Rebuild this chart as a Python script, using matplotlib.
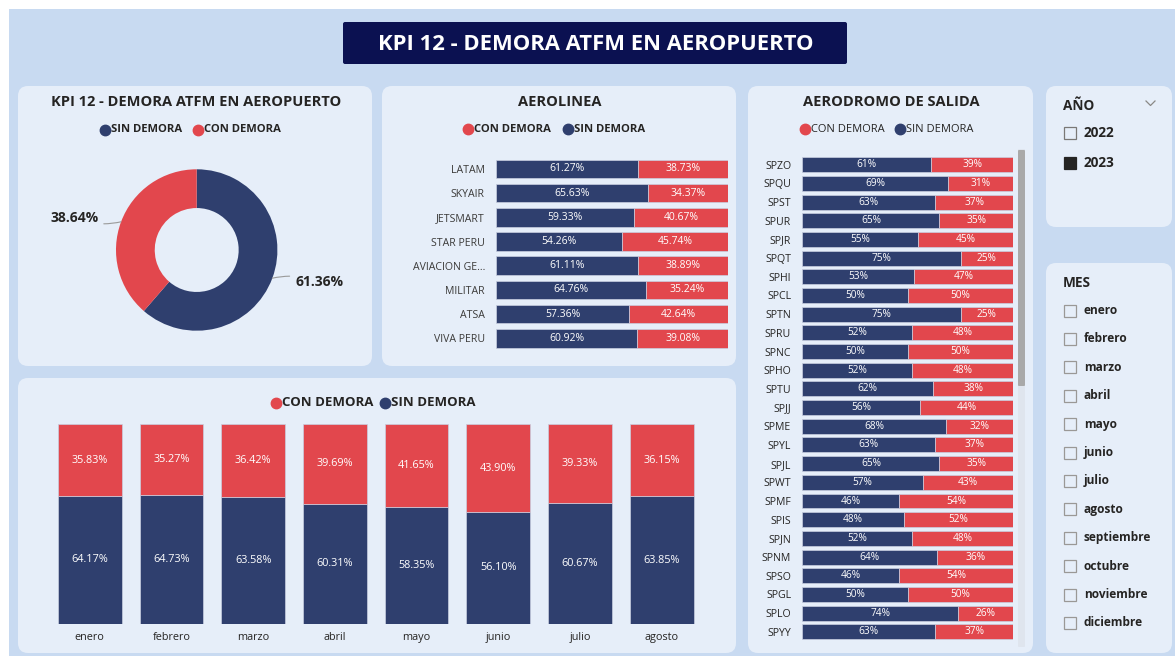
import numpy as np
import matplotlib.pyplot as plt
from matplotlib.patches import FancyBboxPatch, Rectangle

plt.rcParams['font.family'] = ['Open Sans', 'DejaVu Sans']

# ---- data ----
donut_labels = ['SIN DEMORA', 'CON DEMORA']
donut_vals = [61.36, 38.64]

airlines = ['LATAM', 'SKYAIR', 'JETSMART', 'STAR PERU', 'AVIACION GE...',
            'MILITAR', 'ATSA', 'VIVA PERU']
airline_sin = [61.27, 65.63, 59.33, 54.26, 61.11, 64.76, 57.36, 60.92]
airline_con = [38.73, 34.37, 40.67, 45.74, 38.89, 35.24, 42.64, 39.08]

aerodromos = ['SPZO', 'SPQU', 'SPST', 'SPUR', 'SPJR', 'SPQT', 'SPHI', 'SPCL',
              'SPTN', 'SPRU', 'SPNC', 'SPHO', 'SPTU', 'SPJJ', 'SPME', 'SPYL',
              'SPJL', 'SPWT', 'SPMF', 'SPIS', 'SPJN', 'SPNM', 'SPSO', 'SPGL',
              'SPLO', 'SPYY']
aero_sin = [61, 69, 63, 65, 55, 75, 53, 50, 75, 52, 50, 52, 62, 56, 68, 63,
            65, 57, 46, 48, 52, 64, 46, 50, 74, 63]
aero_con = [39, 31, 37, 35, 45, 25, 47, 50, 25, 48, 50, 48, 38, 44, 32, 37,
            35, 43, 54, 52, 48, 36, 54, 50, 26, 37]

months = ['enero', 'febrero', 'marzo', 'abril', 'mayo', 'junio', 'julio', 'agosto']
month_con = [35.83, 35.27, 36.42, 39.69, 41.65, 43.90, 39.33, 36.15]
month_sin = [64.17, 64.73, 63.58, 60.31, 58.35, 56.10, 60.67, 63.85]

years = ['2022', '2023']
year_selected = '2023'
all_months = ['enero', 'febrero', 'marzo', 'abril', 'mayo', 'junio', 'julio',
              'agosto', 'septiembre', 'octubre', 'noviembre', 'diciembre']

# ---- style ----
navy = '#2f3f6e'
red = '#e2474d'
bg_col = '#c8daf1'
panel_col = '#e6eef9'
title_col = '#0b1151'
txt = '#252423'
edge = '#c9cfe0'

W, H = 1175, 656
fig = plt.figure(figsize=(W / 100, H / 100), dpi=100)
fig.patch.set_facecolor('white')

bg = fig.add_axes([0, 0, 1, 1])
bg.set_xlim(0, W)
bg.set_ylim(H, 0)
bg.axis('off')


def px_axes(x0, y0, x1, y1):
    ax = fig.add_axes([x0 / W, 1 - y1 / H, (x1 - x0) / W, (y1 - y0) / H])
    ax.patch.set_alpha(0)
    return ax


def panel(x0, y0, x1, y1, color=panel_col, r=10):
    bg.add_patch(FancyBboxPatch((x0 + r, y0 + r), x1 - x0 - 2 * r, y1 - y0 - 2 * r,
                                boxstyle=f'round,pad={r}', fc=color, ec='none'))


def legend(y, items, size=8, weight='bold'):
    for xc, col, label in items:
        bg.plot(xc, y, 'o', ms=7.5, color=col)
        bg.text(xc + 6, y, label, fontsize=size, fontweight=weight, color=txt,
                ha='left', va='center')


bg.add_patch(Rectangle((9, 9), W, H, fc=bg_col, ec='none'))

# title
bg.add_patch(FancyBboxPatch((345, 24), 500, 38, boxstyle='round,pad=2',
                            fc=title_col, ec='none'))
bg.text(596, 44, 'KPI 12 - DEMORA ATFM EN AEROPUERTO', color='white',
        fontsize=15.8, fontweight='bold', ha='center', va='center')

# panels
panel(18, 86, 372, 366)
panel(382, 86, 736, 366)
panel(748, 86, 1033, 653)
panel(1046, 86, 1172, 227)
panel(1046, 263, 1172, 653)
panel(18, 378, 736, 653)

# ---- donut ----
bg.text(196, 102, 'KPI 12 - DEMORA ATFM EN AEROPUERTO', fontsize=10.5,
        fontweight='bold', color=txt, ha='center', va='center')
legend(129.5, [(105, navy, 'SIN DEMORA'), (198, red, 'CON DEMORA')], size=8.1)

axd = px_axes(96.7, 150, 296.7, 350)
wedges, _ = axd.pie(donut_vals, colors=[navy, red], startangle=90,
                    counterclock=False, radius=1,
                    wedgeprops=dict(width=0.48, edgecolor='none'))
axd.set_xlim(-1.239, 1.239)
axd.set_ylim(-1.239, 1.239)
axd.set_aspect('equal')
for w, v in zip(wedges, donut_vals):
    mid = np.deg2rad((w.theta1 + w.theta2) / 2)
    x, y = np.cos(mid), np.sin(mid)
    s = np.sign(x)
    axd.annotate(f'{v:.2f}%', xy=(x, y), xytext=(1.22 * s, y * 1.12),
                 ha='right' if s < 0 else 'left', va='center', fontsize=10,
                 fontweight='bold', color=txt, annotation_clip=False,
                 arrowprops=dict(arrowstyle='-', color='#9a9a9a', lw=0.8,
                                 shrinkA=2, shrinkB=0,
                                 connectionstyle='arc3,rad=0.15'))

# ---- aerolinea ----
bg.text(560, 102, 'AEROLINEA', fontsize=10.5, fontweight='bold', color=txt,
        ha='center', va='center')
legend(129, [(468, red, 'CON DEMORA'), (568, navy, 'SIN DEMORA')], size=8.1)

n = len(airlines)
axa = px_axes(496, 169 - 12.1, 728, 338.3 + 12.1)
ya = np.arange(n)
axa.barh(ya, airline_sin, height=0.77, color=navy, edgecolor=edge, lw=0.5)
axa.barh(ya, airline_con, left=airline_sin, height=0.77, color=red,
         edgecolor=edge, lw=0.5)
for i in range(n):
    axa.text(airline_sin[i] / 2, i, f'{airline_sin[i]:.2f}%', color='white',
             fontsize=7.5, ha='center', va='center')
    axa.text(airline_sin[i] + airline_con[i] / 2, i, f'{airline_con[i]:.2f}%',
             color='white', fontsize=7.5, ha='center', va='center')
axa.set_xlim(0, 100)
axa.set_ylim(n - 0.5, -0.5)
axa.set_yticks(ya, airlines)
axa.set_xticks([])
axa.tick_params(axis='y', length=0, pad=8, labelsize=7.6, labelcolor='#3b3a39')
for s in axa.spines.values():
    s.set_visible(False)

# ---- aerodromo ----
bg.text(891, 102, 'AERODROMO DE SALIDA', fontsize=10.5, fontweight='bold',
        color=txt, ha='center', va='center')
legend(129, [(805, red, 'CON DEMORA'), (900, navy, 'SIN DEMORA')], size=8,
       weight='normal')

m = len(aerodromos)
axr = px_axes(802.3, 164.7 - 9.34, 1013.3, 631.8 + 9.34)
yr = np.arange(m)
axr.barh(yr, aero_sin, height=0.8, color=navy, edgecolor=edge, lw=0.5)
axr.barh(yr, aero_con, left=aero_sin, height=0.8, color=red, edgecolor=edge,
         lw=0.5)
for i in range(m):
    axr.text(aero_sin[i] / 2, i, f'{aero_sin[i]}%', color='white', fontsize=7.3,
             ha='center', va='center')
    axr.text(aero_sin[i] + aero_con[i] / 2, i, f'{aero_con[i]}%', color='white',
             fontsize=7.3, ha='center', va='center')
axr.set_xlim(0, 100)
axr.set_ylim(m - 0.5, -0.5)
axr.set_yticks(yr, aerodromos)
axr.set_xticks([])
axr.tick_params(axis='y', length=0, pad=8, labelsize=7.6, labelcolor=txt)
for s in axr.spines.values():
    s.set_visible(False)

# scrollbar
bg.add_patch(FancyBboxPatch((1019, 150), 5, 496, boxstyle='round,pad=1',
                            fc='#dfe5ee', ec='none'))
bg.add_patch(FancyBboxPatch((1019, 151), 5, 234, boxstyle='round,pad=1',
                            fc='#a9a9a9', ec='none'))

# ---- monthly ----
legend(402.5, [(276, red, 'CON DEMORA'), (385, navy, 'SIN DEMORA')], size=9.5)
k = len(months)
axm = px_axes(89.7 - 40.85, 424.3, 661.7 + 40.85, 624)
xm = np.arange(k)
axm.bar(xm, month_sin, width=0.78, color=navy, edgecolor=edge, lw=0.5)
axm.bar(xm, month_con, bottom=month_sin, width=0.78, color=red, edgecolor=edge,
        lw=0.5)
for i in range(k):
    axm.text(i, month_sin[i] / 2, f'{month_sin[i]:.2f}%', color='white',
             fontsize=7.8, ha='center', va='center')
    axm.text(i, month_sin[i] + month_con[i] / 2, f'{month_con[i]:.2f}%',
             color='white', fontsize=7.8, ha='center', va='center')
axm.set_xlim(-0.5, k - 0.5)
axm.set_ylim(0, 100)
axm.set_xticks(xm, months)
axm.set_yticks([])
axm.tick_params(axis='x', length=0, pad=6, labelsize=7.8, labelcolor=txt)
for s in axm.spines.values():
    s.set_visible(False)

# ---- slicers ----
bg.text(1063, 106, 'AÑO', fontsize=9.8, fontweight='bold', color=txt,
        ha='left', va='center')
bg.plot([1146, 1150.5, 1155], [101, 105.5, 101], color='#8a8886', lw=0.9)
for j, yv in enumerate(years):
    yy = 133 + j * 30
    filled = yv == year_selected
    bg.add_patch(Rectangle((1064, yy - 6), 12, 12,
                           fc=txt if filled else 'none',
                           ec=txt if filled else '#7a7876', lw=0.9))
    bg.text(1084, yy, yv, fontsize=9.8, fontweight='bold', color=txt,
            ha='left', va='center')

bg.text(1063, 283, 'MES', fontsize=9.8, fontweight='bold', color=txt,
        ha='left', va='center')
for j, mo in enumerate(all_months):
    yy = 310.5 + j * 28.4
    bg.add_patch(Rectangle((1064, yy - 6), 12, 12, fc='none', ec='#9a9896',
                           lw=0.9))
    bg.text(1084, yy, mo, fontsize=8.6, fontweight='bold', color=txt,
            ha='left', va='center')

fig.savefig('out.png', dpi=100)
